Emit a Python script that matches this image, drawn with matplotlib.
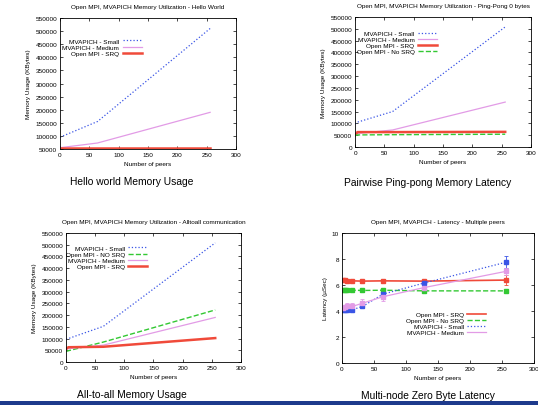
import matplotlib
matplotlib.use("Agg")
import matplotlib.pyplot as plt
from matplotlib.patches import Rectangle
from matplotlib.lines import Line2D

plt.rcParams["font.family"] = ["Liberation Sans", "DejaVu Sans"]

# memory usage (KBytes) vs number of peers
mem_peers = [0, 64, 256]
hello_small = [95000, 155000, 510000]
hello_medium = [55000, 73000, 190000]
hello_srq = [55000, 55000, 55000]

pp_peers = [0, 4, 64, 256]
pp_small = [97000, 105000, 150000, 508000]
pp_medium = [55000, 57000, 72000, 190000]
pp_srq = [50000, 63000, 63000, 64000]
pp_nosrq = [48000, 51000, 52000, 54000]

a2a_peers = [0, 4, 64, 256]
a2a_small = [97000, 100000, 152000, 508000]
a2a_nosrq = [45000, 48000, 85000, 222000]
a2a_medium = [55000, 57000, 72000, 190000]
a2a_srq = [55000, 63000, 65000, 102000]

# latency (uSec) vs number of peers
lat_peers = [2, 4, 8, 16, 32, 64, 128, 256]
lat_srq = [6.35, 6.35, 6.3, 6.32, 6.3, 6.32, 6.3, 6.38]
lat_srq_err = [0.08, 0.08, 0.05, 0.05, 0.08, 0.15, 0.1, 0.4]
lat_nosrq = [5.65, 5.62, 5.6, 5.6, 5.58, 5.6, 5.55, 5.55]
lat_nosrq_err = [0.1, 0.08, 0.05, 0.08, 0.08, 0.1, 0.1, 0.1]
lat_small = [4.05, 4.05, 4.1, 4.1, 4.35, 5.3, 6.15, 7.75]
lat_small_err = [0.08, 0.08, 0.1, 0.1, 0.15, 0.2, 0.25, 0.45]
lat_medium = [4.2, 4.3, 4.35, 4.35, 4.6, 5.1, 5.8, 7.05]
lat_medium_err = [0.15, 0.2, 0.3, 0.25, 0.35, 0.3, 0.3, 0.25]

BLUE = "#3a55e6"
PINK = "#e29be6"
RED = "#f04a3a"
GREEN = "#33c833"
FS = 4.6

fig = plt.figure(figsize=(5.38, 4.06), dpi=100)
fig.patch.set_facecolor("white")


def style(ax):
    ax.set_xlim(0, 300)
    ax.set_xticks(range(0, 301, 50))
    ax.tick_params(direction="in", labelsize=FS, length=2.5, width=0.5,
                   top=True, right=True, pad=2)
    for s in ax.spines.values():
        s.set_linewidth(0.6)


def gp_legend(ax, loc, anchor, handles=None, labels=None):
    kw = dict(loc=loc, bbox_to_anchor=anchor, frameon=False, fontsize=FS,
              markerfirst=False, handlelength=3.0, labelspacing=0.1,
              borderpad=0.2, handletextpad=0.5)
    if handles is None:
        return ax.legend(**kw)
    return ax.legend(handles, labels, **kw)


# top left: hello world
ax1 = fig.add_axes([0.1115, 0.6305, 0.327, 0.3227])
ax1.plot(mem_peers, hello_small, ":", color=BLUE, lw=0.9, label="MVAPICH - Small")
ax1.plot(mem_peers, hello_medium, "-", color=PINK, lw=0.9, label="MVAPICH - Medium")
ax1.plot(mem_peers, hello_srq, "-", color=RED, lw=1.8, label="Open MPI - SRQ")
style(ax1)
ax1.set_ylim(50000, 550000)
ax1.set_yticks(range(50000, 550001, 50000))
ax1.set_title("Open MPI, MVAPICH Memory Utilization - Hello World", fontsize=FS, pad=7)
ax1.set_xlabel("Number of peers", fontsize=FS, labelpad=3)
ax1.set_ylabel("Memory Usage (KBytes)", fontsize=FS, labelpad=3)
gp_legend(ax1, "upper right", (0.49, 0.88))

# top right: ping-pong
ax2 = fig.add_axes([0.660, 0.6355, 0.327, 0.3202])
ax2.plot(pp_peers, pp_small, ":", color=BLUE, lw=0.9, label="MVAPICH - Small")
ax2.plot(pp_peers, pp_medium, "-", color=PINK, lw=0.9, label="MVAPICH - Medium")
ax2.plot(pp_peers, pp_srq, "-", color=RED, lw=1.8, label="Open MPI - SRQ")
ax2.plot(pp_peers, pp_nosrq, "--", color=GREEN, lw=1.0, label="Open MPI - No SRQ")
style(ax2)
ax2.set_ylim(0, 550000)
ax2.set_yticks(range(0, 550001, 50000))
ax2.set_title("Open MPI, MVAPICH Memory Utilization - Ping-Pong 0 bytes", fontsize=FS, pad=7)
ax2.set_xlabel("Number of peers", fontsize=FS, labelpad=3)
ax2.set_ylabel("Memory Usage (KBytes)", fontsize=FS, labelpad=3)
gp_legend(ax2, "upper right", (0.49, 0.93))

# bottom left: all-to-all
ax3 = fig.add_axes([0.1227, 0.1059, 0.325, 0.3177])
ax3.plot(a2a_peers, a2a_small, ":", color=BLUE, lw=0.9, label="MVAPICH - Small")
ax3.plot(a2a_peers, a2a_nosrq, "--", color=GREEN, lw=1.0, label="Open MPI - NO SRQ")
ax3.plot(a2a_peers, a2a_medium, "-", color=PINK, lw=0.9, label="MVAPICH - Medium")
ax3.plot(a2a_peers, a2a_srq, "-", color=RED, lw=1.8, label="Open MPI - SRQ")
style(ax3)
ax3.set_ylim(0, 550000)
ax3.set_yticks(range(0, 550001, 50000))
ax3.set_title("Open MPI, MVAPICH Memory Utilization - Alltoall communication", fontsize=FS, pad=7)
ax3.set_xlabel("Number of peers", fontsize=FS, labelpad=3)
ax3.set_ylabel("Memory Usage (KBytes)", fontsize=FS, labelpad=3)
gp_legend(ax3, "upper right", (0.49, 0.94))

# bottom right: latency
ax4 = fig.add_axes([0.6357, 0.1034, 0.357, 0.3202])
ekw = dict(marker="s", ms=2.2, capsize=1.5, elinewidth=0.6, capthick=0.6)
lat_series = [
    (lat_srq, lat_srq_err, "-", RED, 1.2, "Open MPI - SRQ"),
    (lat_nosrq, lat_nosrq_err, "--", GREEN, 1.0, "Open MPI - No SRQ"),
    (lat_small, lat_small_err, ":", BLUE, 0.9, "MVAPICH - Small"),
    (lat_medium, lat_medium_err, "-", PINK, 0.9, "MVAPICH - Medium"),
]
handles = []
for vals, errs, ls, col, lw, lab in lat_series:
    ax4.errorbar(lat_peers, vals, yerr=errs, fmt=ls, color=col, lw=lw, **ekw)
    handles.append(Line2D([], [], ls=ls, color=col, lw=lw))
style(ax4)
ax4.set_ylim(0, 10)
ax4.set_yticks(range(0, 11, 2))
ax4.set_title("Open MPI, MVAPICH - Latency - Multiple peers", fontsize=FS, pad=7)
ax4.set_xlabel("Number of peers", fontsize=FS, labelpad=3)
ax4.set_ylabel("Latency (\u00b5Sec)", fontsize=FS, labelpad=3)
gp_legend(ax4, "lower right", (0.775, 0.18), handles, [s[5] for s in lat_series])

# captions
cap = dict(fontsize=7.4, ha="center", va="center")
fig.text(0.245, 0.551, "Hello world Memory Usage", **cap)
fig.text(0.794, 0.549, "Pairwise Ping-pong Memory Latency", **cap)
fig.text(0.246, 0.027, "All-to-all Memory Usage", **cap)
fig.text(0.796, 0.025, "Multi-node Zero Byte Latency", **cap)

# slide footer bar
fig.patches.append(Rectangle((0, 0), 1, 0.01, transform=fig.transFigure,
                             facecolor="#1d3a8c", edgecolor="none"))

fig.savefig("out.png", dpi=100)
